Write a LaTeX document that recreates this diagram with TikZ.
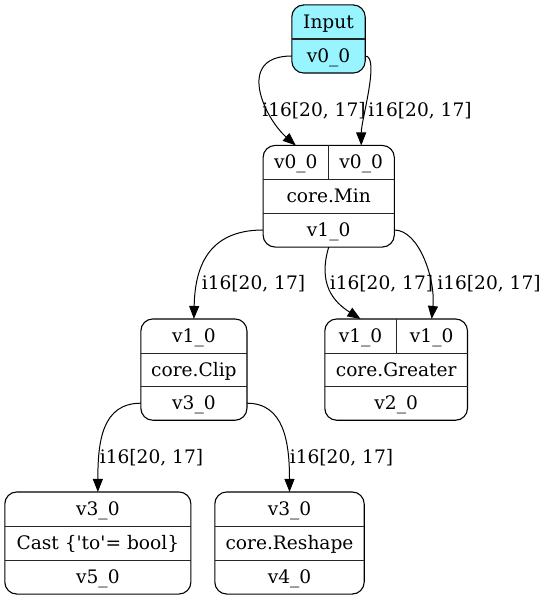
\documentclass[tikz,border=0pt]{standalone}
\usepackage{fontspec}
\setmainfont{DejaVu Serif}[Ligatures=TeXOff]
\usetikzlibrary{arrows.meta,backgrounds}
\definecolor{cadet}{HTML}{98F5FF}
\tikzset{
  cell/.style={inner sep=0pt, minimum height=33.7pt, text height=14pt, text depth=1pt, font=\fontsize{18.6}{22}\selectfont},
  box/.style={draw=black, line width=1.1pt, rounded corners=12pt},
  sep/.style={draw=black!85, line width=1.1pt},
  edge/.style={draw=black, line width=1pt, -{Triangle[length=13pt,width=10pt]}},
  elabel/.style={inner sep=0pt, anchor=base, font=\fontsize{18.6}{22}\selectfont}
}
\begin{document}
\begin{tikzpicture}[x=1pt,y=-1pt]
\useasboundingbox (0,0) rectangle (547,601);
% Input
\node[cell, minimum width=73pt] (inpT) at (328.5,22) {Input};
\node[cell, minimum width=73pt] (inpV) at (328.5,56) {v0\_0};
% core.Min
\node[cell, minimum width=65pt] (min1) at (295.8,162.5) {v0\_0};
\node[cell, minimum width=65.8pt] (min2) at (361.2,162.5) {v0\_0};
\node[cell, minimum width=130.8pt] (minOp) at (328.7,196.2) {core.Min};
\node[cell, minimum width=130.8pt] (minOut) at (328.7,230) {v1\_0};
% core.Clip
\node[cell, minimum width=105.7pt] (clipIn) at (193.9,336) {v1\_0};
\node[cell, minimum width=105.7pt] (clipOp) at (193.9,369.5) {core.Clip};
\node[cell, minimum width=105.7pt] (clipOut) at (193.9,403.2) {v3\_0};
% core.Greater
\node[cell, minimum width=71pt] (gr1) at (360.5,336) {v1\_0};
\node[cell, minimum width=71.3pt] (gr2) at (431.65,336) {v1\_0};
\node[cell, minimum width=142.3pt] (grOp) at (396.15,369.5) {core.Greater};
\node[cell, minimum width=142.3pt] (grOut) at (396.15,403.2) {v2\_0};
% Cast
\node[cell, minimum width=185.7pt] (castIn) at (97.85,509) {v3\_0};
\node[cell, minimum width=185.7pt] (castOp) at (97.85,543) {Cast \{'to'= bool\}};
\node[cell, minimum width=185.7pt] (castOut) at (97.85,577) {v5\_0};
% core.Reshape
\node[cell, minimum width=149pt] (reIn) at (289.5,509) {v3\_0};
\node[cell, minimum width=149pt] (reOp) at (289.5,543) {core.Reshape};
\node[cell, minimum width=149pt] (reOut) at (289.5,577) {v4\_0};

\begin{scope}[on background layer]
\path[box, fill=cadet] (inpT.north west) rectangle (inpV.south east);
\path[box] (min1.north west) rectangle (minOut.south east);
\path[box] (clipIn.north west) rectangle (clipOut.south east);
\path[box] (gr1.north west) rectangle (grOut.south east);
\path[box] (castIn.north west) rectangle (castOut.south east);
\path[box] (reIn.north west) rectangle (reOut.south east);
\end{scope}
% separators
\path[sep] (inpT.south west) -- (inpT.south east);
\path[sep] (min1.south west) -- (min2.south east);
\path[sep] (minOp.south west) -- (minOp.south east);
\path[sep] (min1.north east) -- (min1.south east);
\path[sep] (clipIn.south west) -- (clipIn.south east);
\path[sep] (clipOp.south west) -- (clipOp.south east);
\path[sep] (gr1.south west) -- (gr2.south east);
\path[sep] (grOp.south west) -- (grOp.south east);
\path[sep] (gr1.north east) -- (gr1.south east);
\path[sep] (castIn.south west) -- (castIn.south east);
\path[sep] (castOp.south west) -- (castOp.south east);
\path[sep] (reIn.south west) -- (reIn.south east);
\path[sep] (reOp.south west) -- (reOp.south east);

% edges
\draw[edge] (inpV.west) .. controls +(-57,0) and +(-31,-27) .. (min1.north);
\draw[edge] (inpV.east) .. controls +(15,0) and +(0,-25) .. (min2.north);
\draw[edge] (minOut.west) .. controls +(-57,0) and +(1,-49) .. (clipIn.north);
\draw[edge] (minOut.south) .. controls +(-11,37) and +(-27,-17) .. (gr1.north);
\draw[edge] (minOut.east) .. controls +(25,0) and +(4,-39) .. (gr2.north);
\draw[edge] (clipOut.west) .. controls +(-39,0) and +(0,-50) .. (castIn.north);
\draw[edge] (clipOut.east) .. controls +(37,0) and +(0,-50) .. (reIn.north);

% edge labels
\node[elabel] (l1) at (314,117) {i16[20, 17]};
\node[elabel] (l2) at (420,117) {i16[20, 17]};
\node[elabel] (l3) at (253.5,289.5) {i16[20, 17]};
\node[elabel] (l4) at (381.5,289.5) {i16[20, 17]};
\node[elabel] (l5) at (489,289.5) {i16[20, 17]};
\node[elabel] (l6) at (151.5,463.5) {i16[20, 17]};
\node[elabel] (l7) at (341.5,463.5) {i16[20, 17]};
\end{tikzpicture}
\end{document}
